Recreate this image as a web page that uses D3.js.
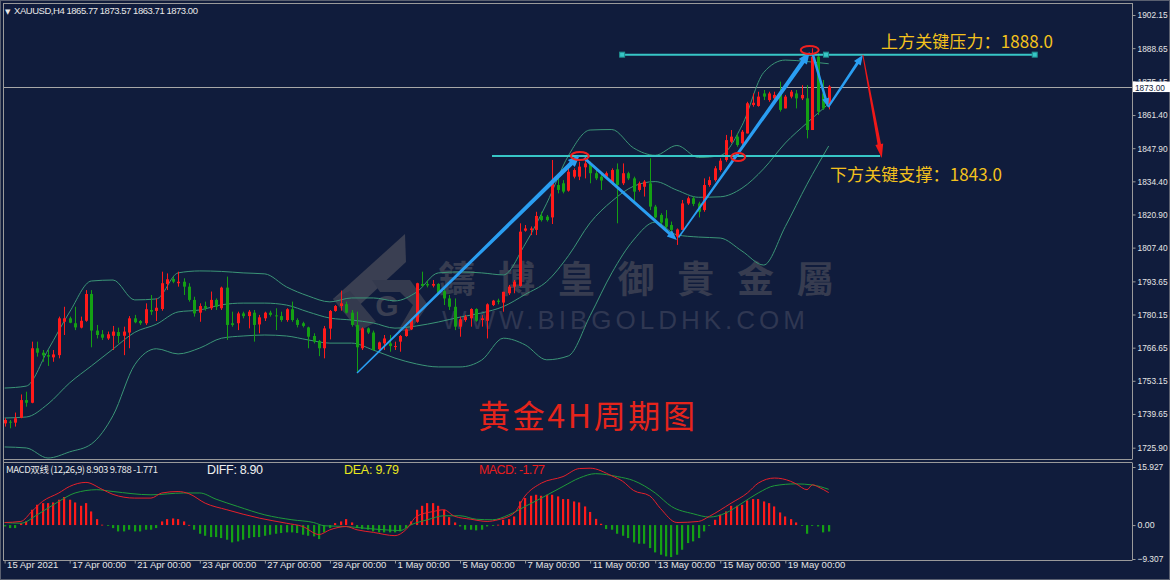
<!DOCTYPE html>
<html>
<head>
<meta charset="utf-8">
<script src="https://cdn.jsdelivr.net/npm/d3@7"></script>
<style>
body{margin:0;background:#101c3c}
svg{display:block}
</style>
</head>
<body>
<svg id="chart"></svg>
<script>
// XAUUSD H4 candles, 15 Apr - 20 May 2021
var opens=[1735.8,1736.5,1736.1,1738.1,1745.3,1744.2,1766.4,1764.6,1763.6,1762.7,
1763.6,1777.2,1778.6,1776.6,1774.8,1777.6,1788.5,1773.6,1772.1,1770.4,
1771.5,1773.0,1771.5,1772.8,1778.6,1777.5,1776.6,1782.0,1781.6,1782.4,
1792.6,1794.6,1792.9,1793.5,1791.5,1786.1,1780.9,1783.6,1782.7,1786.1,
1782.7,1791.1,1776.6,1776.6,1780.6,1779.5,1780.9,1776.1,1778.6,1780.9,
1779.8,1779.5,1777.9,1782.3,1777.9,1776.6,1774.9,1771.4,1769.4,1766.4,
1774.4,1781.6,1783.6,1784.4,1780.9,1775.9,1766.4,1774.5,1772.8,1766.0,
1768.4,1768.4,1767.0,1769.1,1771.4,1774.1,1777.2,1792.6,1792.6,1791.9,
1792.6,1789.7,1786.7,1783.3,1775.2,1777.9,1778.6,1782.4,1777.9,1777.6,
1784.0,1785.8,1785.0,1788.8,1791.5,1791.8,1814.3,1814.6,1814.6,1820.3,
1820.0,1819.7,1832.9,1833.6,1830.6,1836.3,1836.3,1840.1,1841.7,1837.7,
1836.3,1836.3,1833.6,1839.3,1833.6,1837.7,1835.6,1830.9,1832.2,1833.6,
1824.1,1820.7,1819.3,1816.6,1811.9,1814.6,1825.4,1827.5,1825.4,1822.7,
1832.9,1834.9,1839.0,1843.1,1850.5,1852.6,1849.9,1853.9,1865.5,1865.1,
1870.2,1867.5,1868.2,1870.9,1864.1,1868.9,1870.2,1868.2,1868.2,1855.3,
1885.2,1870.2,1865.77];
var highs=[1737.9,1737.2,1740.2,1747.6,1748.7,1769.1,1769.1,1765.7,1765.7,1765.7,
1779.3,1783.3,1779.3,1783.3,1779.3,1790.1,1790.1,1775.9,1773.8,1773.2,
1775.5,1774.8,1775.2,1779.5,1780.0,1777.9,1784.7,1788.1,1786.7,1797.6,
1796.9,1795.6,1797.6,1794.9,1792.9,1787.4,1784.7,1785.4,1789.5,1786.7,
1791.5,1795.6,1781.3,1781.3,1781.3,1782.0,1782.0,1780.0,1781.3,1781.7,
1782.7,1781.3,1782.7,1785.4,1778.6,1777.2,1775.2,1772.5,1769.8,1775.5,
1782.0,1784.0,1789.9,1785.4,1782.0,1781.3,1774.9,1774.9,1773.6,1769.1,
1771.8,1771.8,1769.1,1771.8,1774.5,1778.6,1793.1,1797.6,1794.0,1794.2,
1792.9,1790.8,1788.1,1786.7,1779.3,1780.0,1782.7,1782.7,1779.9,1784.7,
1786.1,1786.6,1789.4,1792.2,1794.2,1817.3,1816.6,1816.0,1822.0,1822.0,
1820.7,1843.1,1836.3,1834.9,1840.4,1839.7,1842.4,1844.4,1842.4,1839.3,
1837.7,1838.4,1839.7,1841.7,1841.7,1838.3,1836.3,1834.3,1834.9,1843.8,
1824.8,1821.4,1822.7,1818.0,1815.2,1826.8,1828.2,1828.2,1826.1,1835.6,
1836.3,1840.6,1843.8,1853.3,1855.3,1853.9,1855.3,1866.8,1870.2,1870.9,
1871.6,1870.9,1870.9,1875.0,1869.6,1871.6,1871.6,1873.6,1873.6,1888.6,
1886.5,1875.7,1873.57];
var lows=[1734.5,1733.8,1734.5,1737.9,1742.6,1744.0,1763.0,1760.9,1759.2,1760.9,
1762.3,1771.8,1776.6,1773.8,1774.5,1777.2,1766.8,1770.4,1769.8,1769.8,
1765.7,1768.4,1763.6,1766.4,1776.6,1775.9,1775.9,1780.0,1777.5,1781.7,
1790.1,1792.9,1791.5,1788.1,1785.4,1779.3,1777.2,1781.7,1782.0,1782.0,
1782.0,1769.8,1775.2,1773.8,1778.6,1774.5,1769.1,1772.5,1777.5,1779.3,
1773.8,1777.2,1777.2,1777.2,1774.9,1774.9,1766.4,1768.4,1763.2,1762.3,
1770.0,1781.3,1781.7,1780.6,1775.2,1756.5,1765.7,1772.2,1765.4,1765.4,
1765.7,1765.0,1765.7,1765.0,1771.1,1773.8,1776.8,1791.5,1791.2,1791.2,
1788.1,1784.0,1782.0,1773.8,1771.1,1777.2,1775.2,1777.2,1775.2,1770.4,
1783.6,1784.3,1781.3,1788.1,1788.8,1791.5,1813.9,1812.5,1812.5,1818.0,
1818.0,1817.0,1829.5,1829.5,1830.2,1835.6,1834.9,1835.6,1833.6,1834.9,
1830.9,1835.6,1832.9,1817.3,1832.9,1834.9,1825.4,1830.2,1828.2,1822.7,
1819.3,1817.0,1815.2,1813.2,1808.5,1814.6,1824.8,1824.3,1819.7,1822.0,
1832.2,1834.3,1838.3,1842.4,1849.9,1848.5,1849.2,1853.9,1864.8,1864.8,
1867.5,1866.8,1867.5,1862.8,1864.1,1868.2,1864.1,1867.5,1851.9,1855.3,
1861.4,1863.5,1863.71];
var closes=[1737.2,1736.1,1737.9,1745.3,1744.2,1766.4,1764.6,1763.5,1763.0,1763.9,
1778.6,1778.6,1776.8,1774.9,1777.6,1788.5,1773.6,1771.8,1770.7,1772.1,
1773.2,1771.4,1773.2,1778.6,1777.0,1776.6,1782.3,1781.3,1782.9,1792.9,
1794.5,1793.5,1793.5,1791.5,1786.1,1780.6,1783.6,1782.7,1786.1,1783.3,
1791.1,1775.9,1775.9,1780.6,1779.5,1781.3,1775.9,1779.0,1780.9,1780.0,
1779.5,1777.9,1782.3,1777.9,1775.9,1775.5,1771.1,1769.1,1766.4,1774.5,
1781.6,1783.6,1784.7,1780.9,1775.9,1766.8,1774.5,1772.8,1765.7,1768.8,
1770.4,1767.3,1767.3,1771.4,1774.1,1777.9,1792.9,1791.8,1792.0,1792.6,
1788.8,1786.7,1783.3,1775.2,1778.2,1779.3,1782.4,1777.6,1778.6,1784.3,
1785.8,1785.3,1789.4,1791.5,1793.5,1813.9,1815.2,1815.2,1820.3,1818.6,
1818.6,1833.6,1830.9,1830.2,1838.3,1839.0,1840.4,1841.7,1837.7,1835.6,
1834.7,1837.7,1839.0,1832.9,1837.7,1835.6,1830.2,1833.6,1834.3,1824.1,
1819.7,1817.6,1815.9,1814.6,1814.8,1825.4,1827.5,1825.2,1822.0,1832.9,
1834.9,1839.7,1842.8,1851.2,1852.6,1849.2,1854.6,1866.2,1866.4,1868.9,
1868.9,1870.2,1869.6,1863.5,1868.9,1870.9,1868.2,1869.6,1855.3,1885.2,
1862.8,1864.1,1873.00];

// Bollinger bands read every 4 bars
var bandIdx=[0,4,8,12,16,20,24,28,32,36,40,44,48,52,56,60,64,68,72,76,80,84,88,92,96,100,104,108,112,116,120,124,128,132,136,140,144,148,152];
var bandUpper=[1750.2,1751.0,1765.7,1781.2,1793.8,1794.2,1786.1,1786.5,1797.1,1797.9,1797.7,1797.1,1796.7,1791.4,1787.7,1785.3,1786.9,1786.9,1785.7,1789.3,1797.1,1797.5,1797.1,1796.3,1808.8,1825.5,1844.9,1855.3,1855.5,1848.0,1845.0,1849.0,1844.1,1844.9,1857.1,1878.7,1883.8,1883.2,1882.3];
var bandMiddle=[1738.0,1738.4,1743.7,1752.3,1759.2,1766.1,1772.9,1776.2,1781.2,1782.0,1784.1,1784.8,1784.8,1784.0,1781.2,1778.7,1777.9,1776.7,1774.6,1775.5,1777.1,1779.1,1780.8,1783.4,1788.3,1793.6,1804.1,1817.5,1826.3,1832.4,1834.3,1830.8,1827.9,1828.1,1831.6,1839.5,1850.0,1858.2,1866.0];
var bandLower=[1726.2,1725.8,1721.7,1724.2,1727.4,1739.0,1759.7,1766.2,1764.1,1766.5,1770.5,1771.4,1771.8,1771.4,1769.8,1768.5,1768.5,1765.7,1762.4,1760.0,1758.8,1758.8,1761.6,1770.5,1767.8,1761.7,1763.3,1779.7,1797.1,1810.5,1817.8,1812.6,1811.7,1811.3,1806.0,1800.3,1816.0,1833.2,1848.8];

// MACD (12,26,9)
var macdHist=[-0.37,-0.83,-0.83,0.54,1.0,4.2,5.57,6.02,6.02,6.2,
6.95,7.68,6.95,6.2,5.29,6.02,3.74,1.63,0.1,-0.2,
-0.83,-1.74,-1.74,-1.28,-1.74,-1.74,-1.28,-1.28,-0.83,1.0,
1.63,1.82,1.63,1.0,0.05,-1.28,-2.38,-2.93,-3.29,-3.29,
-3.57,-4.02,-4.75,-4.48,-4.02,-3.57,-3.29,-3.29,-2.93,-2.65,
-2.38,-2.19,-2.01,-2.01,-2.19,-2.65,-2.93,-3.11,-3.84,-2.01,
-0.83,0.54,1.0,1.63,0.72,-0.83,-1.1,-1.28,-1.74,-2.01,
-2.01,-2.01,-2.01,-1.74,-0.83,1.0,4.2,5.29,6.02,6.02,
5.29,4.2,2.18,0.72,-0.37,-1.28,-1.28,-1.46,-1.28,-0.37,
-0.19,0.1,1.45,1.63,2.36,6.48,7.41,8.04,8.31,8.04,
8.31,8.31,7.86,7.13,7.13,6.48,6.2,5.11,3.6,1.7,
0.36,-1.1,-1.28,-2.38,-2.93,-3.57,-4.75,-5.12,-5.12,-6.31,
-7.5,-8.14,-8.59,-8.78,-8.14,-6.77,-4.94,-4.48,-3.57,-1.74,
-0.19,1.45,2.82,3.74,5.29,5.29,5.57,6.77,7.13,7.13,
6.48,6.02,5.11,3.46,2.36,1.63,0.72,-0.1,-2.38,-0.19,
-0.37,-2.01,-1.77];
var diffIdx=[0,3,5,7,10,12,15,18,20,24,27,29,32,34,37,41,47,52,55,58,60,63,65,68,72,74,76,79,81,83,86,89,91,94,96,99,103,106,108,112,114,116,119,121,124,128,130,134,137,139,142,145,146,148,149,150,152];
var diffValues=[0.7,1.0,3.7,6.5,8.8,10.6,11.7,9.8,8.4,7.4,7.4,8.8,9.2,8.6,6.0,4.2,1.9,0.5,-0.4,-2.6,-1.3,-0.4,-1.3,-2.0,-2.9,-1.3,2.4,3.7,4.2,2.4,1.6,1.0,1.45,3.3,8.0,11.5,13.3,15.5,15.6,13.5,12.0,9.5,8.0,4.5,0.7,1.0,2.4,6.0,8.8,11.5,12.9,12.0,11.3,9.7,11.05,10.5,8.9];
var deaIdx=[0,3,6,10,13,17,20,27,33,36,39,43,48,53,57,59,63,66,70,73,75,78,81,84,87,90,93,96,99,103,106,109,113,116,120,123,127,130,133,136,139,142,146,149,152];
var deaValues=[0.7,0.5,2.8,6.5,8.8,9.7,9.2,8.3,8.8,8.8,7.1,5.1,2.8,1.45,0.7,-0.2,-0.4,-0.8,-1.3,-1.5,0.1,1.45,2.55,2.55,1.6,1.45,2.8,5.1,7.4,10.6,12.9,14.1,13.3,12.2,8.8,5.1,3.1,2.2,3.3,6.0,8.8,10.8,11.3,11.0,9.8];

// axis labels
var priceTicks=[1902.15,1888.65,1875.15,1861.40,1847.90,1834.40,1820.90,1807.40,1793.65,1780.15,1766.65,1753.15,1739.65,1725.90];
var macdTicks=[15.927,0.00,-9.307];
var dateIdx=[0,12,24,36,48,60,72,84,96,108,120,132,144];
var dateLabels=["15 Apr 2021","17 Apr 00:00","21 Apr 00:00","23 Apr 00:00","27 Apr 00:00","29 Apr 00:00","1 May 00:00","5 May 00:00","7 May 00:00","11 May 00:00","13 May 00:00","15 May 00:00","19 May 00:00"];

// drawn analysis: bar index / price
var lastPrice=1873.00;
var resistLevel=1886.0, resistFrom=113.9, resistTo=190.0;
var supportLevel=1844.7, supportFrom=89.9, supportTo=161.5;
var arrowFrom=[[65.0,1756.3],[106.9,1843.9],[124.3,1811.5],[149.1,1885.9],[151.9,1864.6]];
var arrowTo=[[106.1,1845.1],[124.0,1810.5],[148.5,1887.1],[151.9,1864.6],[158.3,1885.9]];
var redArrowFrom=[158.3,1885.9], redArrowTo=[161.8,1843.9];
var circles=[[106.1,1844.7],[135.3,1844.3],[148.5,1887.9]];

var W=1170,H=580;
var svg=d3.select("#chart").attr("width",W).attr("height",H);
var bg="#101c3c", up="#ff1a1a", down="#14a014", bandCol="#3b9577", axisCol="#9a9a9a";

svg.append("rect").attr("width",W).attr("height",H).attr("fill",bg);

var x=d3.scaleLinear().domain([0,152]).range([4.6,828.7]);
var y=d3.scaleLinear().domain([1725.90,1902.15]).range([447.7,15]);
var ym=d3.scaleLinear().domain([-9.307,15.927]).range([559,467]);

svg.append("clipPath").attr("id","mainclip").append("rect").attr("x",4).attr("y",4).attr("width",1128).attr("height",455);
svg.append("clipPath").attr("id","macdclip").append("rect").attr("x",4).attr("y",463).attr("width",1128).attr("height",97);

// watermark
var wm=svg.append("g");
wm.append("path").attr("d","M333,299 L405,234 L406,262 L352,312 Z").attr("fill","#3a3f52");
wm.append("path").attr("d","M333,299 L350,291 L376,322 L359,331 Z").attr("fill","#343a4e");
wm.append("path").attr("d","M372,280 L410,280 L428,305 L410,331 L398,331 L413,305 L400,292 L380,292 Z").attr("fill","#343a4e");
wm.append("text").attr("x",387).attr("y",316).attr("text-anchor","middle").attr("font-family","Liberation Sans").attr("font-weight","bold").attr("font-size",30).attr("fill","#3a3f52").text("G");
var wmChars=["鑄","博","皇","御","貴","金","屬"];
wm.selectAll("text.wc").data(wmChars).enter().append("text").attr("class","wc")
  .attr("x",function(d,i){return 457+59.7*i}).attr("y",293).attr("text-anchor","middle")
  .attr("font-family","Noto Sans CJK TC").attr("font-weight","bold").attr("font-size",37)
  .attr("fill","#373c50").text(function(d){return d});
wm.append("text").attr("x",442).attr("y",329).attr("font-family","Liberation Sans").attr("font-size",26)
  .attr("textLength",363).attr("fill","#2f3752").text("WWW.BIBGOLDHK.COM");

var main=svg.append("g").attr("clip-path","url(#mainclip)");

// last price line
main.append("line").attr("x1",4).attr("x2",1132).attr("y1",Math.round(y(lastPrice))+0.5).attr("y2",Math.round(y(lastPrice))+0.5)
  .attr("stroke","#a8a8a8").attr("stroke-width",1);

// bands
[bandUpper,bandMiddle,bandLower].forEach(function(arr){
  var line=d3.line().x(function(d,i){return x(bandIdx[i])}).y(function(d){return y(d)}).curve(d3.curveMonotoneX);
  main.append("path").datum(arr).attr("d",line).attr("fill","none").attr("stroke",bandCol).attr("stroke-width",1);
});

// candles
var bars=d3.range(closes.length).map(function(i){return {i:i,o:opens[i],h:highs[i],l:lows[i],c:closes[i]}});
var cg=main.append("g");
cg.selectAll("line").data(bars).enter().append("line")
  .attr("x1",function(d){return Math.round(x(d.i))+0.5}).attr("x2",function(d){return Math.round(x(d.i))+0.5})
  .attr("y1",function(d){return y(d.h)}).attr("y2",function(d){return y(d.l)})
  .attr("stroke",function(d){return d.c>=d.o?up:down}).attr("stroke-width",1);
cg.selectAll("rect").data(bars).enter().append("rect")
  .attr("x",function(d){return Math.round(x(d.i))-1}).attr("width",3)
  .attr("y",function(d){return y(Math.max(d.o,d.c))})
  .attr("height",function(d){return Math.max(1,Math.abs(y(d.o)-y(d.c)))})
  .attr("fill",function(d){return d.c>=d.o?up:down});

// support / resistance
var lvl=[[resistLevel,resistFrom,resistTo],[supportLevel,supportFrom,supportTo]];
lvl.forEach(function(l){
  main.append("line").attr("x1",x(l[1])).attr("x2",x(l[2])).attr("y1",y(l[0])).attr("y2",y(l[0]))
    .attr("stroke","#37c6c6").attr("stroke-width",2);
});
[resistFrom,151.5,resistTo].forEach(function(v){
  main.append("rect").attr("x",x(v)-2.5).attr("y",y(resistLevel)-2.5).attr("width",5).attr("height",5)
    .attr("fill","#37c6c6").attr("stroke","#1f8f8f");
});

// tapered arrow
function arrow(g,p0,p1,w0,w1,hl,hw,col){
  var x0=x(p0[0]),y0=y(p0[1]),x1=x(p1[0]),y1=y(p1[1]);
  var dx=x1-x0,dy=y1-y0,len=Math.sqrt(dx*dx+dy*dy),ux=dx/len,uy=dy/len,nx=-uy,ny=ux;
  var bx=x1-ux*hl,by=y1-uy*hl;
  var pts=[[x0+nx*w0/2,y0+ny*w0/2],[bx+nx*w1/2,by+ny*w1/2],[bx+nx*hw/2,by+ny*hw/2],[x1,y1],
    [bx-nx*hw/2,by-ny*hw/2],[bx-nx*w1/2,by-ny*w1/2],[x0-nx*w0/2,y0-ny*w0/2]];
  g.append("path").attr("d","M"+pts.map(function(p){return p[0].toFixed(1)+","+p[1].toFixed(1)}).join("L")+"Z").attr("fill",col);
}
var ag=svg.append("g");
var blue="#2a9ef2";
arrow(ag,arrowFrom[0],arrowTo[0],1.5,4.5,12,10,blue);
arrow(ag,arrowFrom[1],arrowTo[1],3,3,10,8,blue);
arrow(ag,arrowFrom[2],arrowTo[2],1.5,4.5,12,10,blue);
arrow(ag,arrowFrom[3],arrowTo[3],2.5,2.5,9,7,blue);
arrow(ag,arrowFrom[4],arrowTo[4],2,3,10,8,blue);
arrow(ag,redArrowFrom,redArrowTo,1,3.5,14,8,"#f01818");

ag.selectAll("ellipse").data(circles).enter().append("ellipse")
  .attr("cx",function(d){return x(d[0])}).attr("cy",function(d){return y(d[1])})
  .attr("rx",function(d,i){return i==1?7:9}).attr("ry",4)
  .attr("fill","none").attr("stroke","#f02020").attr("stroke-width",2);

// annotations
svg.append("text").attr("x",478).attr("y",428).attr("font-family","Noto Sans CJK SC").attr("font-size",32)
  .attr("textLength",217).attr("fill","#e5241b").text("黄金4H周期图");
svg.append("text").attr("x",881).attr("y",48).attr("font-family","Noto Sans CJK SC").attr("font-size",17)
  .attr("textLength",172).attr("fill","#f4c21c").text("上方关键压力：1888.0");
svg.append("text").attr("x",830).attr("y",181).attr("font-family","Noto Sans CJK SC").attr("font-size",17)
  .attr("textLength",172).attr("fill","#f4c21c").text("下方关键支撑：1843.0");

// MACD panel
var mg=svg.append("g").attr("clip-path","url(#macdclip)");
mg.selectAll("rect").data(macdHist).enter().append("rect")
  .attr("x",function(d,i){return Math.round(x(i))-1}).attr("width",2.2)
  .attr("y",function(d){return Math.min(ym(d),ym(0))})
  .attr("height",function(d){return Math.max(0.8,Math.abs(ym(d)-ym(0)))})
  .attr("fill",function(d){return d>=0?"#ff1a1a":"#14a014"});
var diffLine=d3.line().x(function(d,i){return x(diffIdx[i])}).y(function(d){return ym(d)}).curve(d3.curveMonotoneX);
var deaLine=d3.line().x(function(d,i){return x(deaIdx[i])}).y(function(d){return ym(d)}).curve(d3.curveMonotoneX);
mg.append("path").datum(deaValues).attr("d",deaLine).attr("fill","none").attr("stroke","#1f9a3a").attr("stroke-width",1);
mg.append("path").datum(diffValues).attr("d",diffLine).attr("fill","none").attr("stroke","#e5202a").attr("stroke-width",1);

// headers
svg.append("text").attr("x",5).attr("y",14).attr("font-family","DejaVu Sans").attr("font-size",7).attr("fill","#e8e8e8").text("▼");
svg.append("text").attr("x",14).attr("y",14).attr("font-family","Liberation Sans").attr("font-size",9.5)
  .attr("textLength",184).attr("fill","#e8e8e8").text("XAUUSD,H4  1865.77 1873.57 1863.71 1873.00");
svg.append("text").attr("x",6).attr("y",473).attr("font-family","Noto Sans CJK SC").attr("font-size",9.5)
  .attr("textLength",152).attr("fill","#e8e8e8").text("MACD双线 (12,26,9) 8.903 9.788 -1.771");
svg.append("text").attr("x",207).attr("y",474).attr("font-family","Liberation Sans").attr("font-size",12.5)
  .attr("textLength",56).attr("fill","#f0f0f0").text("DIFF:  8.90");
svg.append("text").attr("x",344).attr("y",474).attr("font-family","Liberation Sans").attr("font-size",12.5)
  .attr("textLength",55).attr("fill","#e8e81e").text("DEA:  9.79");
svg.append("text").attr("x",479).attr("y",474).attr("font-family","Liberation Sans").attr("font-size",12.5)
  .attr("textLength",66).attr("fill","#e81c1c").text("MACD:  -1.77");

// frames
var fr=svg.append("g").attr("fill","none").attr("stroke",axisCol).attr("stroke-width",1);
fr.append("rect").attr("x",0.5).attr("y",0.5).attr("width",W-1).attr("height",H-1).attr("stroke","#5a6070");
fr.append("line").attr("x1",3.5).attr("x2",3.5).attr("y1",3).attr("y2",560);
fr.append("line").attr("x1",3).attr("x2",1132).attr("y1",3.5).attr("y2",3.5);
fr.append("line").attr("x1",3).attr("x2",1132).attr("y1",459.5).attr("y2",459.5);
fr.append("line").attr("x1",3).attr("x2",1132).attr("y1",462.5).attr("y2",462.5);
fr.append("line").attr("x1",3).attr("x2",1132).attr("y1",560.5).attr("y2",560.5);

// price axis
var pAxis=svg.append("g").attr("transform","translate(1132.5,0)")
  .call(d3.axisRight(y).tickValues(priceTicks).tickFormat(d3.format(".2f")).tickSize(3).tickPadding(2));
var mAxis=svg.append("g").attr("transform","translate(1132.5,0)")
  .call(d3.axisRight(ym).tickValues(macdTicks).tickFormat(function(d){return d===0?"0.00":d3.format(".3f")(d)}).tickSize(3).tickPadding(2));
var tAxis=svg.append("g").attr("transform","translate(0,560.5)")
  .call(d3.axisBottom(x).tickValues(dateIdx).tickFormat(function(d,i){return dateLabels[i]}).tickSize(3).tickPadding(3));
[pAxis,mAxis,tAxis].forEach(function(a){
  a.select(".domain").attr("stroke",axisCol);
  a.selectAll(".tick line").attr("stroke",axisCol);
  a.selectAll(".tick text").attr("fill","#e6e6e6").attr("font-family","Liberation Sans").attr("font-size",9.5);
});
[pAxis,mAxis].forEach(function(a){
  a.selectAll(".tick text").attr("font-size",9).attr("lengthAdjust","spacingAndGlyphs")
    .attr("textLength",function(d){return this.textContent.length*4.3});
});
pAxis.select(".domain").attr("d","M0,3V459.5");
mAxis.select(".domain").attr("d","M0,462.5V560.5");
tAxis.select(".domain").attr("d","M3,0H1132");
tAxis.selectAll(".tick text").attr("text-anchor","start").attr("dx",2).attr("dy","0.2em");

// last price tag
var ly=y(lastPrice);
svg.append("rect").attr("x",1133).attr("y",ly-5).attr("width",37).attr("height",10.5).attr("fill","#ffffff");
svg.append("text").attr("x",1135).attr("y",ly+4).attr("font-family","Liberation Sans").attr("font-size",9)
  .attr("textLength",30).attr("lengthAdjust","spacingAndGlyphs")
  .attr("fill","#101c3c").text(d3.format(".2f")(lastPrice));
</script>
</body>
</html>
